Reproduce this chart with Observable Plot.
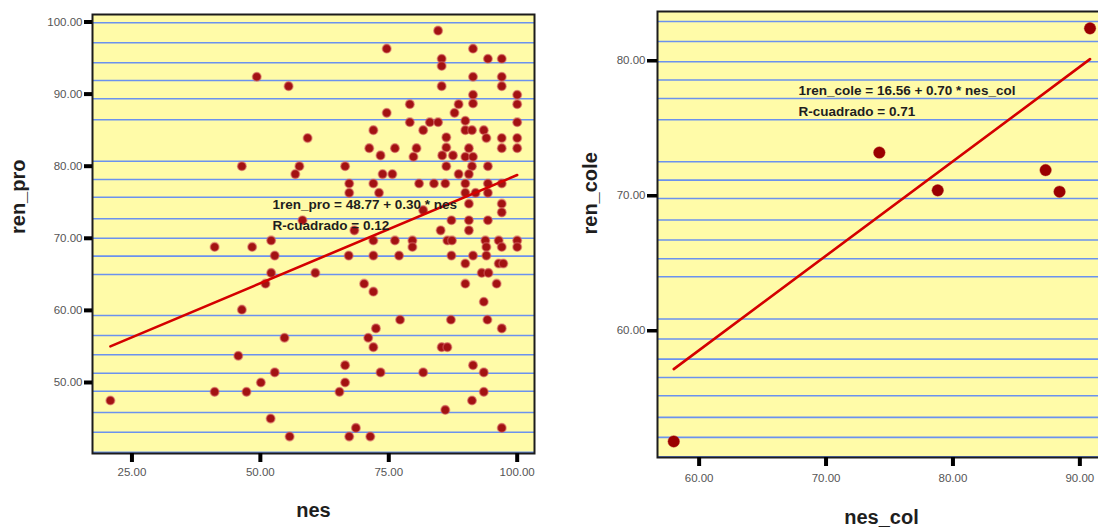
<!DOCTYPE html>
<html><head><meta charset="utf-8">
<script src="https://cdn.jsdelivr.net/npm/d3@7"></script>
<script src="https://cdn.jsdelivr.net/npm/@observablehq/plot@0.6"></script>
<style>
html,body{margin:0;padding:0;background:#fff;overflow:hidden;width:1098px;height:529px}
#wrap{position:relative;width:1098px;height:529px;overflow:hidden}
#left{position:absolute;left:0;top:0;width:560px;height:529px}
#right{position:absolute;left:560px;top:0;width:560px;height:529px}
svg{font-family:"Liberation Sans",Arial,sans-serif;max-width:none !important}
</style></head><body><div id="wrap"><div id="left"></div><div id="right"></div></div>
<script>
// ---- Left panel data: nes vs ren_pro ----
const nes = [20.8,41.1,41.1,49.3,46.4,48.4,52.1,52.8,52.1,51.0,46.4,45.7,52.8,50.1,47.3,52.0,55.5,54.7,55.7,57.6,56.8,58.2,59.2,60.7,66.5,67.3,67.3,67.2,66.5,66.5,65.4,68.6,67.3,71.4,68.3,72.0,71.2,73.4,73.8,75.7,72.0,73.1,72.0,76.2,72.0,77.0,70.2,72.0,77.2,72.5,71.0,72.0,73.4,74.6,74.6,76.2,84.6,91.4,94.3,97.0,85.3,85.3,91.4,97.0,97.0,85.3,100.0,91.4,100.0,91.4,79.1,88.6,87.8,79.1,83.0,84.6,89.9,100.0,81.7,89.9,91.2,93.5,86.2,97.0,100.0,94.0,86.2,80.4,90.6,97.0,100.0,79.8,85.4,87.5,89.9,91.4,91.2,86.2,94.3,88.6,90.6,80.9,83.8,86.0,89.9,94.3,97.0,89.9,91.9,94.3,97.0,90.6,81.7,97.0,87.2,90.6,94.3,85.1,90.6,79.6,86.4,87.3,93.8,96.4,100.0,79.6,94.0,97.0,100.0,87.2,91.4,94.0,89.9,96.4,97.3,93.1,94.4,89.9,96.0,93.5,87.1,94.2,97.0,85.3,86.4,91.4,81.7,93.5,93.5,91.2,86.0,97.0];
const renPro = [47.5,68.8,48.7,92.4,80.0,68.8,69.7,67.6,65.2,63.7,60.1,53.7,51.4,50.0,48.7,45.0,91.1,56.2,42.5,80.0,78.9,72.5,83.9,65.2,80.0,77.6,76.3,67.6,52.4,50.0,48.7,43.7,42.5,42.5,71.1,85.0,82.5,81.5,78.9,78.9,77.6,76.3,69.7,69.7,67.6,67.6,63.7,62.6,58.7,57.5,56.2,54.9,51.4,96.3,87.4,82.5,98.8,96.3,94.9,94.9,94.9,93.9,92.4,92.4,91.1,91.1,89.9,89.9,88.6,88.7,88.6,88.6,87.4,86.1,86.1,86.1,86.3,86.1,85.0,85.0,85.0,85.0,84.0,83.9,83.9,83.9,82.6,82.5,82.5,82.5,82.5,81.3,81.5,81.5,81.3,81.3,80.0,80.0,80.0,78.9,78.9,77.6,77.6,77.6,77.6,77.6,77.6,76.3,76.3,76.3,74.8,74.8,73.9,73.6,72.5,72.5,72.5,71.1,71.1,69.7,69.7,69.7,69.7,69.7,69.7,68.8,68.8,68.8,68.8,67.6,67.6,67.6,66.5,66.5,66.5,65.2,65.2,63.7,63.7,61.2,58.7,58.7,57.5,54.9,54.9,52.4,51.4,51.4,48.7,47.5,46.2,43.7];
const leftXTicks = [25, 50, 75, 100];
const leftYTicks = [50, 60, 70, 80, 90, 100];
const leftRuled = [99.89,97.12,94.34,91.89,89.35,86.44,80.69,78.16,75.70,72.70,70.01,67.52,64.98,59.29,56.51,53.84,51.29,48.79,45.84,43.10,40.33];
const leftFit = [48.77, 0.30];
const leftEquation = ["1ren_pro = 48.77 + 0.30 * nes", "R-cuadrado = 0.12"];
const leftXLabel = "nes", leftYLabel = "ren_pro";

// ---- Right panel data: nes_col vs ren_cole ----
const nesCol = [58.0, 74.2, 78.8, 87.3, 88.4, 90.8];
const renCole = [51.8, 73.2, 70.4, 71.9, 70.3, 82.4];
const rightXTicks = [60, 70, 80, 90];
const rightYTicks = [60, 70, 80];
const rightRuled = [82.91,81.43,79.93,78.57,77.21,75.63,72.52,71.16,69.80,68.20,66.72,65.33,64.00,60.87,59.39,57.90,56.54,55.19,53.58,52.10,50.67];
const rightFit = [16.56, 0.70];
const rightEquation = ["1ren_cole = 16.56 + 0.70 * nes_col", "R-cuadrado = 0.71"];
const rightXLabel = "nes_col", rightYLabel = "ren_cole";

const FONT = "Liberation Sans, Arial, sans-serif";
const fmt = d3.format(".2f");

function panel(cfg) {
  const idx = d3.range(cfg.xs.length);
  const [x0, x1] = d3.extent(cfg.xs);
  const fit = [x0, x1].map(v => ({x: v, y: cfg.fit[0] + cfg.fit[1] * v}));
  return Plot.plot({
    width: cfg.width, height: 529,
    marginLeft: cfg.ml, marginRight: cfg.mr, marginTop: cfg.mt, marginBottom: cfg.mb,
    style: {fontFamily: FONT, background: "transparent", overflow: "visible", maxWidth: "none"},
    x: {domain: cfg.xDomain},
    y: {domain: cfg.yDomain},
    marks: [
      Plot.frame({fill: "#fffba8", stroke: null}),
      Plot.ruleY(cfg.ruled, {stroke: "#6b92ee", strokeWidth: 1.6}),
      Plot.dot(idx, {x: i => cfg.xs[i], y: i => cfg.ys[i], r: cfg.r, fill: cfg.dotFill, stroke: cfg.dotStroke, strokeWidth: cfg.dotSW, strokeOpacity: 0.55}),
      Plot.line(fit, {x: "x", y: "y", stroke: "#d40000", strokeWidth: 2.6}),
      Plot.text([cfg.eq[0]], {frameAnchor: "top-left", dx: cfg.eqDx, dy: cfg.eqDy, lineAnchor: "middle", textAnchor: "start", fontSize: 13.5, fontWeight: "bold", fill: "#1e1e1e"}),
      Plot.text([cfg.eq[1]], {frameAnchor: "top-left", dx: cfg.eqDx, dy: cfg.eqDy + cfg.eqGap, lineAnchor: "middle", textAnchor: "start", fontSize: 13.5, fontWeight: "bold", fill: "#1e1e1e"}),
      Plot.frame({stroke: "#1c1c1c", strokeWidth: 2}),
      Plot.axisY(cfg.yTicks, {tickSize: cfg.yts, tickPadding: cfg.ytp, strokeWidth: cfg.ytw, stroke: "#000", fill: "#555", fontSize: 11.5, tickFormat: fmt, label: null}),
      Plot.axisX(cfg.xTicks, {tickSize: 9, tickPadding: cfg.xtp, strokeWidth: 4, stroke: "#000", fill: "#555", fontSize: 11.5, tickFormat: fmt, label: null}),
      Plot.text([cfg.xLabel], {frameAnchor: "bottom", dy: cfg.xlDy, lineAnchor: "middle", fontSize: 20, fontWeight: "bold", fill: "#1e1e1e"}),
      Plot.text([cfg.yLabel], {frameAnchor: "left", dx: cfg.ylDx, rotate: -90, lineAnchor: "middle", fontSize: 20, fontWeight: "bold", fill: "#1e1e1e"})
    ]
  });
}

document.getElementById("left").append(panel({
  xs: nes, ys: renPro, fit: leftFit, eq: leftEquation, ruled: leftRuled,
  xTicks: leftXTicks, yTicks: leftYTicks, xLabel: leftXLabel, yLabel: leftYLabel,
  width: 560, ml: 92, mr: 26, mt: 14, mb: 76,
  xDomain: [17.32, 103.37], yDomain: [40.15, 101.04],
  r: 4.3, dotFill: "#a31212", dotStroke: "#d46060", dotSW: 1.6,
  eqDx: 180, eqDy: 190, eqGap: 21,
  yts: 8, ytp: 2, ytw: 4, xtp: 5,
  xlDy: 57, ylDx: -74
}));

document.getElementById("right").append(panel({
  xs: nesCol, ys: renCole, fit: rightFit, eq: rightEquation, ruled: rightRuled,
  xTicks: rightXTicks, yTicks: rightYTicks, xLabel: rightXLabel, yLabel: rightYLabel,
  width: 560, ml: 97, mr: 15, mt: 11, mb: 72,
  xDomain: [56.72, 92.02], yDomain: [50.61, 83.65],
  r: 5.8, dotFill: "#9a0000", dotStroke: "#b02020", dotSW: 0.8,
  eqDx: 141, eqDy: 79, eqGap: 21,
  yts: 10, ytp: 2, ytw: 3.5, xtp: 7,
  xlDy: 60, ylDx: -67
}));
</script>
</body></html>
